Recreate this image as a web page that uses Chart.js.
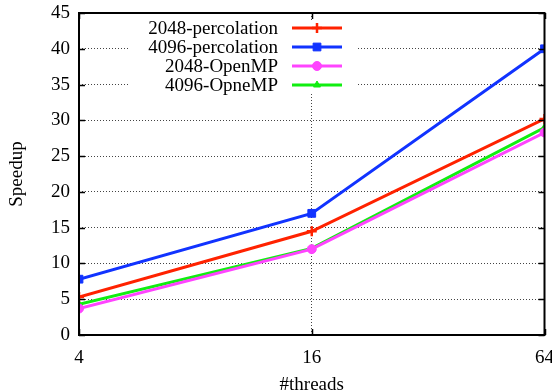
<!DOCTYPE html>
<html>
<head>
<meta charset="utf-8">
<script src="https://cdn.jsdelivr.net/npm/chart.js@4.4.1/dist/chart.umd.min.js"></script>
<style>
  html, body { margin: 0; padding: 0; background: #fff; }
  #wrap { width: 552px; height: 391px; }
</style>
</head>
<body>
<div id="wrap"><canvas id="speedup" width="552" height="391"></canvas></div>
<script>
// data
var threads = [4, 16, 64];
var perc2048 = [5.3, 14.5, 30.2];
var perc4096 = [7.8, 17.0, 40.0];
var omp2048 = [3.7, 12.0, 28.3];
var omp4096 = [4.3, 12.1, 29.0];
var seriesNames = ["2048-percolation", "4096-percolation", "2048-OpenMP", "4096-OpneMP"];
var yTicks = [0, 5, 10, 15, 20, 25, 30, 35, 40, 45];

var colors = ["#ff2200", "#1133ff", "#ff44ff", "#11ee11"];
var shapes = ["cross", "rect", "circle", "triangle"];
var radii = [5, 5.5, 4.5, 4];
var FONT = "'Liberation Serif', 'DejaVu Serif', serif";

function pts(vals) {
  return vals.map(function (v, i) { return { x: threads[i], y: v }; });
}

var allSeries = [perc2048, perc4096, omp2048, omp4096];
var datasets = allSeries.map(function (vals, i) {
  return {
    label: seriesNames[i],
    data: pts(vals),
    borderColor: colors[i],
    backgroundColor: colors[i],
    borderWidth: 3,
    pointStyle: shapes[i],
    pointRadius: radii[i],
    pointBorderWidth: i == 0 ? 2.5 : 1,
    tension: 0
  };
});

// gnuplot-like frame with inward ticks
var framePlugin = {
  id: "frame",
  afterDatasetsDraw: function (chart) {
    var ctx = chart.ctx, a = chart.chartArea;
    var xs = chart.scales.x, ys = chart.scales.y;
    ctx.save();
    ctx.strokeStyle = "#000";
    ctx.lineWidth = 1.5;
    ctx.beginPath();
    yTicks.forEach(function (t) {
      var y = Math.round(ys.getPixelForValue(t)) + 0.5;
      ctx.moveTo(a.left, y); ctx.lineTo(a.left + 6, y);
      ctx.moveTo(a.right, y); ctx.lineTo(a.right - 6, y);
    });
    threads.forEach(function (t) {
      var x = Math.round(xs.getPixelForValue(t)) + 0.5;
      ctx.moveTo(x, a.bottom); ctx.lineTo(x, a.bottom - 6);
      ctx.moveTo(x, a.top); ctx.lineTo(x, a.top + 6);
    });
    ctx.stroke();
    ctx.lineWidth = 2;
    ctx.strokeRect(a.left, a.top, a.right - a.left, a.bottom - a.top);
    ctx.restore();
  }
};

// legend box inside the plot, text right-aligned then line sample
var keyPlugin = {
  id: "key",
  afterDatasetsDraw: function (chart) {
    var ctx = chart.ctx;
    ctx.save();
    ctx.fillStyle = "#fff";
    ctx.fillRect(128, 20, 230, 74);
    ctx.font = "19px " + FONT;
    ctx.textAlign = "right";
    ctx.textBaseline = "middle";
    datasets.forEach(function (ds, i) {
      var y = 28 + i * 19;
      ctx.fillStyle = "#000";
      ctx.fillText(ds.label, 278, y + 1);
      ctx.strokeStyle = ds.borderColor;
      ctx.lineWidth = 3;
      ctx.beginPath();
      ctx.moveTo(292, y); ctx.lineTo(342, y);
      ctx.stroke();
      ctx.fillStyle = ds.backgroundColor;
      ctx.lineWidth = ds.pointBorderWidth;
      Chart.helpers.drawPoint(ctx, {
        pointStyle: ds.pointStyle, radius: ds.pointRadius, borderWidth: ds.pointBorderWidth
      }, 317, y);
    });
    ctx.restore();
  }
};

function noPad(s) {
  s.paddingLeft = 0; s.paddingRight = 0; s.paddingTop = 0; s.paddingBottom = 0;
}

new Chart(document.getElementById("speedup"), {
  type: "line",
  data: { datasets: datasets },
  plugins: [keyPlugin, framePlugin],
  options: {
    responsive: false,
    animation: false,
    layout: { padding: { top: 13, right: 7, left: 0, bottom: 0 } },
    plugins: { legend: { display: false }, tooltip: { enabled: false } },
    scales: {
      x: {
        type: "logarithmic",
        min: 4, max: 64,
        afterBuildTicks: function (s) { s.ticks = threads.map(function (v) { return { value: v }; }); },
        afterFit: function (s) { s.height = 56; noPad(s); },
        border: { display: false, dash: [1, 2] },
        grid: { color: "#444", lineWidth: 1, drawTicks: false },
        ticks: {
          color: "#000", font: { family: FONT, size: 19 }, padding: 12,
          maxRotation: 0, autoSkip: false,
          callback: function (v) { return String(v); }
        },
        title: {
          display: true, text: "#threads", color: "#000",
          font: { family: FONT, size: 19 }, padding: { top: 10, bottom: -5 }
        }
      },
      y: {
        min: 0, max: 45,
        afterBuildTicks: function (s) { s.ticks = yTicks.map(function (v) { return { value: v }; }); },
        afterFit: function (s) { s.width = 79; noPad(s); },
        border: { display: false, dash: [1, 2] },
        grid: { color: "#444", lineWidth: 1, drawTicks: false },
        ticks: { color: "#000", font: { family: FONT, size: 19 }, padding: 9 },
        title: {
          display: true, text: "Speedup", color: "#000",
          font: { family: FONT, size: 19 }, padding: { top: 6, bottom: 0 }
        }
      }
    }
  }
});
</script>
</body>
</html>
